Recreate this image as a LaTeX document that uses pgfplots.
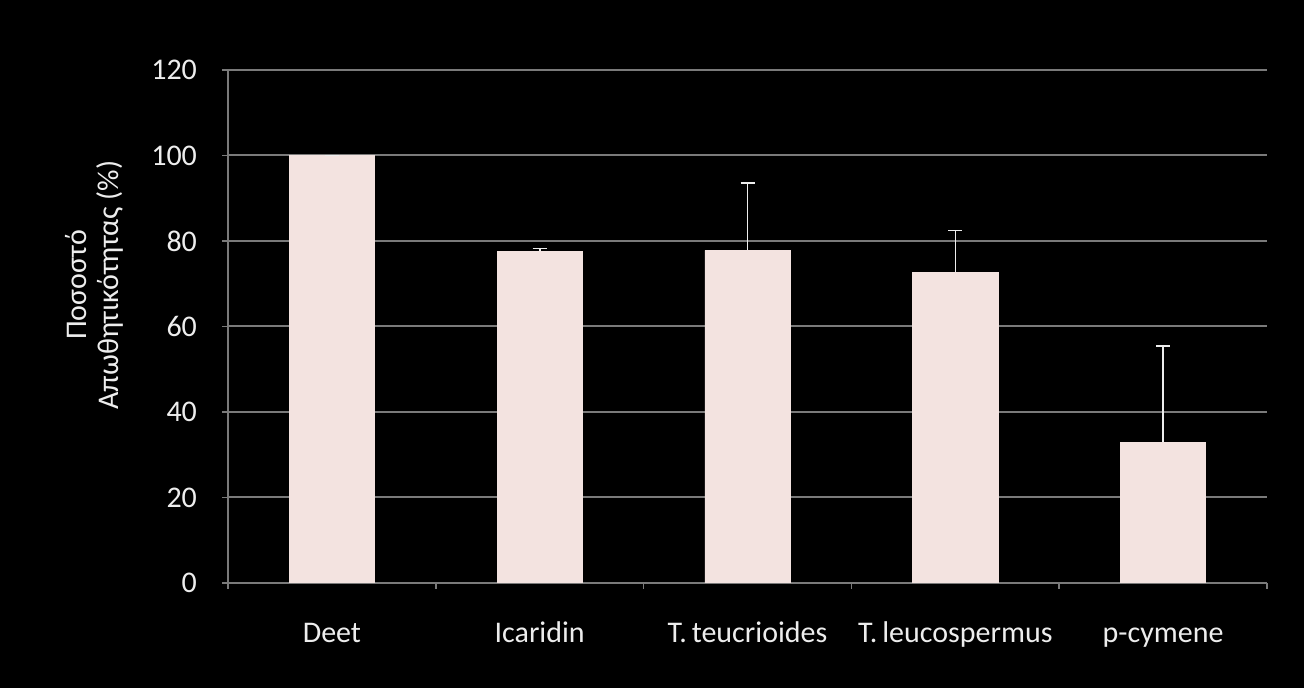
\documentclass[border=0pt]{standalone}
\usepackage{fontspec}
\setmainfont{Carlito}
\usepackage{pgfplots}
\pgfplotsset{compat=1.18}
\definecolor{barpink}{HTML}{F3E3E0}
\definecolor{gridgrey}{HTML}{7A7A7A}
\definecolor{txt}{HTML}{EDEDED}
\begin{document}
\begin{tikzpicture}[x=1pt,y=1pt]
\fill[black] (0,0) rectangle (652,344);
\begin{axis}[
  at={(114pt,52.5pt)}, anchor=south west,
  scale only axis, width=519.5pt, height=256.5pt,
  xmin=-0.5, xmax=4.5, ymin=0, ymax=120,
  ytick={0,20,...,120},
  xtick={-0.5,0.5,...,4.5},
  x tick label as interval,
  xticklabels={Deet,Icaridin,T.\,teucrioides,T.\,leucospermus,p-cymene},
  axis x line*=bottom, axis y line*=left,
  axis line style={gridgrey, line width=1pt},
  tick align=outside, major tick length=3pt,
  tick style={gridgrey, line width=0.8pt},
  ymajorgrids, grid style={gridgrey, line width=1pt},
  /pgf/number format/assume math mode=true,
  tick label style={font=\fontsize{15}{18}\selectfont, text=txt},
  yticklabel style={xshift=-9pt},
  xticklabel style={yshift=-12pt, text height=11pt, text depth=3.5pt},
  ybar, bar width=0.41,
]
\addplot[fill=barpink, draw=barpink,
  error bars/.cd, y dir=plus, y explicit,
  error bar style={txt, line width=0.8pt},
  error mark options={txt, line width=0.8pt, mark size=3.5pt, rotate=90}]
  coordinates {
  (0,100) +- (0,0)
  (1,77.6) +- (0,0.6)
  (2,77.8) +- (0,15.7)
  (3,72.7) +- (0,9.8)
  (4,32.9) +- (0,22.5)
  };
\end{axis}
\node[rotate=90, align=center, text=txt, font=\fontsize{15}{16}\selectfont]
  at (47,201.5) {Ποσοστό\\Απωθητικότητας (\%)};
\end{tikzpicture}
\end{document}
